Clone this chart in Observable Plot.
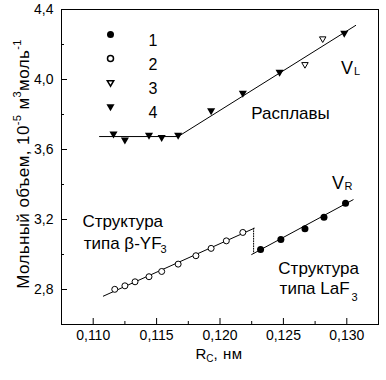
<!DOCTYPE html>
<html><head><meta charset="utf-8">
<script src="https://cdn.jsdelivr.net/npm/d3@7"></script>
<script src="https://cdn.jsdelivr.net/npm/@observablehq/plot@0.6"></script>
<style>
body{margin:0;background:#fff}
#chart svg{font-family:"Liberation Sans",Arial,sans-serif}
</style>
</head><body><div id="chart"></div>
<script>
// Series 1: filled circles (LaF3-type)
const s1Rc = [0.1232, 0.1248, 0.1267, 0.1282, 0.1299];
const s1V  = [3.029, 3.086, 3.147, 3.213, 3.293];
// Series 2: open circles (beta-YF3-type)
const s2Rc = [0.1117, 0.1125, 0.1133, 0.1144, 0.1154, 0.1167, 0.1181, 0.1193, 0.1205, 0.1218];
const s2V  = [2.801, 2.821, 2.844, 2.873, 2.903, 2.945, 2.993, 3.035, 3.078, 3.126];
// Series 3: open triangles (melts)
const s3Rc = [0.1267, 0.1281];
const s3V  = [4.086, 4.233];
// Series 4: filled triangles (melts)
const s4Rc = [0.1116, 0.1125, 0.1144, 0.1154, 0.1167, 0.1193, 0.1218, 0.1247, 0.1298];
const s4V  = [3.690, 3.655, 3.682, 3.670, 3.682, 3.823, 3.922, 4.042, 4.265];
// Fitted lines
const vlRc = [0.1105, 0.1167, 0.1307];
const vlV  = [3.674, 3.674, 4.309];
const vrYRc = [0.1108, 0.1227];
const vrYV  = [2.762, 3.150];
const vrLRc = [0.1225, 0.1305];
const vrLV  = [3.000, 3.313];
const jumpRc = [0.12265, 0.12265];
const jumpV  = [3.150, 3.005];
// Ticks
const xMajor = [0.110, 0.115, 0.120, 0.125, 0.130];
const xMinor = [0.1125, 0.1175, 0.1225, 0.1275];
const yMajor = [2.8, 3.2, 3.6, 4.0, 4.4];
const yMinor = [3.0, 3.4, 3.8, 4.2];
const legendLabels = ["1", "2", "3", "4"];

const zip = (xs, ys) => xs.map((x, i) => ({x, y: ys[i]}));
const loc = d3.formatLocale({decimal: ",", thousands: "\u00a0", grouping: [3], currency: ["", ""]});
const fx = loc.format(".3f"), fy = loc.format(".1f");

const W = 386, H = 380, mL = 61, mR = 8, mT = 9, mB = 56;
const fw = W - mL - mR, fh = H - mT - mB;

const legendMarks = [];
legendLabels.forEach((lab, i) => {
  const dy = 25 + i * 24;
  const opts = [
    {symbol: "circle", r: 3.5, fill: "black"},
    {symbol: "circle", r: 3, fill: "white", stroke: "black"},
    {symbol: "triangle", r: 2.4, fill: "white", stroke: "black", rotate: 180},
    {symbol: "triangle", r: 3, fill: "black", rotate: 180}
  ][i];
  legendMarks.push(Plot.dot([lab], {frameAnchor: "top-left", dx: 49, dy, ...opts}));
  legendMarks.push(Plot.text([lab], {text: d => d, frameAnchor: "top-left", dx: 87, dy, textAnchor: "start", fontSize: 16}));
});

const ann = [
  {x: 0.12246, y: 3.777, t: "Расплавы", s: 17},
  {x: 0.10915, y: 3.160, t: "Структура", s: 17},
  {x: 0.10925, y: 3.034, t: "типа β-YF", s: 17},
  {x: 0.1246, y: 2.890, t: "Структура", s: 17},
  {x: 0.1247, y: 2.777, t: "типа LaF", s: 17},
  {x: 0.12955, y: 4.029, t: "V", s: 18},
  {x: 0.12884, y: 3.377, t: "V", s: 18}
];
const subs = [
  {x: 0.11530, y: 3.006, t: "3"},
  {x: 0.13037, y: 2.737, t: "3"},
  {x: 0.13057, y: 4.023, t: "L"},
  {x: 0.12982, y: 3.366, t: "R"}
];

const plot = Plot.plot({
  width: W, height: H,
  marginLeft: mL, marginRight: mR, marginTop: mT, marginBottom: mB,
  x: {domain: [0.1075, 0.1325]},
  y: {domain: [2.6, 4.4]},
  style: {fontFamily: '"Liberation Sans", Arial, sans-serif', fontSize: "14px", color: "black", background: "white"},
  marks: [
    Plot.ruleX(xMajor, {x: d => d, insetTop: fh - 6, stroke: "black"}),
    Plot.ruleX(xMinor, {x: d => d, insetTop: fh - 3, stroke: "black"}),
    Plot.ruleY(yMajor, {y: d => d, insetRight: fw - 6, stroke: "black"}),
    Plot.ruleY(yMinor, {y: d => d, insetRight: fw - 3, stroke: "black"}),
    Plot.axisX(xMajor, {tickSize: 0, tickPadding: 6, tickFormat: fx, fontSize: 14, label: null}),
    Plot.axisY(yMajor, {tickSize: 0, tickPadding: 8, tickFormat: fy, fontSize: 14, label: null}),
    Plot.frame({stroke: "black"}),
    Plot.line(zip(vlRc, vlV), {x: "x", y: "y", stroke: "black", strokeWidth: 1}),
    Plot.line(zip(vrYRc, vrYV), {x: "x", y: "y", stroke: "black", strokeWidth: 1}),
    Plot.line(zip(vrLRc, vrLV), {x: "x", y: "y", stroke: "black", strokeWidth: 1}),
    Plot.line(zip(jumpRc, jumpV), {x: "x", y: "y", stroke: "black", strokeWidth: 1, strokeDasharray: "1,1.5"}),
    Plot.dot(zip(s2Rc, s2V), {x: "x", y: "y", r: 3, fill: "white", stroke: "black", strokeWidth: 1}),
    Plot.dot(zip(s1Rc, s1V), {x: "x", y: "y", r: 3.5, fill: "black"}),
    Plot.dot(zip(s4Rc, s4V), {x: "x", y: "y", r: 3, symbol: "triangle", rotate: 180, fill: "black"}),
    Plot.dot(zip(s3Rc, s3V), {x: "x", y: "y", r: 2.4, symbol: "triangle", rotate: 180, fill: "white", stroke: "black", strokeWidth: 1}),
    Plot.text(ann, {x: "x", y: "y", text: "t", fontSize: "s", textAnchor: "start", lineAnchor: "bottom", fill: "black"}),
    Plot.text(subs, {x: "x", y: "y", text: "t", fontSize: 11, textAnchor: "start", lineAnchor: "bottom", fill: "black"}),
    ...legendMarks
  ]
});

const svg = d3.select(plot);
const xl = svg.append("text").attr("x", 219).attr("y", 359).attr("text-anchor", "middle").attr("font-size", 15).attr("fill", "black");
xl.append("tspan").text("R");
xl.append("tspan").attr("font-size", 10).attr("dy", 3).text("C");
xl.append("tspan").attr("dy", -3).attr("letter-spacing", "0.5").text(", нм");

const yl = svg.append("text").attr("transform", "translate(29,164) rotate(-90)").attr("text-anchor", "middle").attr("font-size", 17).attr("letter-spacing", "0.4").attr("fill", "black");
yl.append("tspan").text("Мольный объем, 10");
yl.append("tspan").attr("font-size", 11).attr("dy", -8).text("-5");
yl.append("tspan").attr("dy", 8).text(" м");
yl.append("tspan").attr("font-size", 11).attr("dy", -8).text("3");
yl.append("tspan").attr("dy", 8).text("моль");
yl.append("tspan").attr("font-size", 11).attr("dy", -8).text("-1");

document.getElementById("chart").append(plot);
</script>
</body></html>
